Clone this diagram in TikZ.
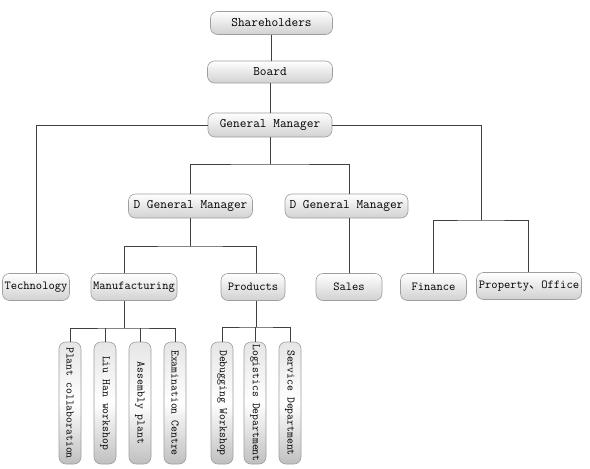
\documentclass[tikz,border=0pt]{standalone}
\usepackage{fontspec}
\newfontfamily\cjk{Noto Sans CJK SC}
\newcommand\boxfont[1]{\ttfamily\fontsize{#1}{#1}\selectfont\addfontfeatures{FakeBold=1.1}}
\begin{document}
\begin{tikzpicture}[x=1pt,y=-1pt,
  box/.style={draw=black!38, line width=0.6pt, rounded corners=7pt, inner sep=0pt,
    top color=white, bottom color=black!18, font=\boxfont{13}},
  rowbox/.style={box, minimum height=27pt, font=\boxfont{12.2}},
  tallbox/.style={draw=black!38, line width=0.6pt, rounded corners=7pt, inner sep=0pt,
    rotate=-90, minimum width=122pt, minimum height=22pt,
    top color=black!10, bottom color=black!25, middle color=white,
    font=\boxfont{11.4}},
  conn/.style={draw=black!75, line width=0.8pt}]
\useasboundingbox (0,0) rectangle (590,469);
% top levels
\node[box, minimum width=122pt, minimum height=23pt] (sh) at (271.5,23) {Shareholders};
\node[box, minimum width=125pt, minimum height=22pt] (bd) at (270,72) {Board};
\node[box, minimum width=124pt, minimum height=24pt] (gm) at (270,125) {General Manager};
\node[box, minimum width=124pt, minimum height=24pt] (dg1) at (190.5,206) {D General Manager};
\node[box, minimum width=123pt, minimum height=24pt] (dg2) at (346.5,206) {D General Manager};
% row
\node[rowbox, minimum width=67pt] (tech) at (36,287) {Technology};
\node[rowbox, minimum width=86pt] (manu) at (134,287) {Manufacturing};
\node[rowbox, minimum width=64pt] (prod) at (253,287) {Products};
\node[rowbox, minimum width=66pt] (sales) at (349,287) {Sales};
\node[rowbox, minimum width=66pt] (fin) at (433.5,287) {Finance};
\node[rowbox, minimum width=105pt] (prop) at (529,286) {Property{\cjk 、}Office};
% tall boxes
\node[tallbox] (b1) at (70,403) {Plant collaboration};
\node[tallbox] (b2) at (105,403) {Liu Han workshop};
\node[tallbox] (b3) at (140,403) {Assembly plant};
\node[tallbox] (b4) at (175,403) {Examination Centre};
\node[tallbox] (c1) at (222,403) {Debugging Workshop};
\node[tallbox] (c2) at (255,403) {Logistics Department};
\node[tallbox] (c3) at (290,403) {Service Department};
% junction coordinates (only their y matters where lines pass through)
\coordinate (jd) at (270,164);
\coordinate (jr) at (481,220);
\coordinate (jm) at (190,246);
\coordinate (dg2in) at ([xshift=2.5pt]dg2.north);
\coordinate (dg2out) at ([xshift=2.5pt]dg2.south);
\coordinate (manuin) at ([xshift=-10pt]manu.north);
\coordinate (manuout) at ([xshift=-10pt]manu.south);
\coordinate (prodin) at ([xshift=3pt]prod.north);
\coordinate (prodout) at ([xshift=3pt]prod.south);
\coordinate (propin) at ([xshift=-1pt]prop.north);
\coordinate (jb) at (124,328);
\coordinate (jc) at (256,327);
% connectors
\draw[conn] (sh.south) -- (sh.south |- bd.north);
\draw[conn] (bd.south) -- (bd.south |- gm.north);
\draw[conn] (gm.west) -| (tech.north);
\draw[conn] (gm.south) -- (gm.south |- jd);
\draw[conn] (dg1.north) |- (jd) -| (dg2in);
\draw[conn] (gm.east) -| (jr);
\draw[conn] (fin.north) |- (jr) -| (propin);
\draw[conn] (dg1.south) -- (dg1.south |- jm);
\draw[conn] (manuin) |- (jm) -| (prodin);
\draw[conn] (dg2out) -- (dg2out |- sales.north);
\draw[conn] (manuout) -- (manuout |- jb);
\draw[conn] (b1.west) |- (jb) -| (b4.west);
\draw[conn] (b2.west) -- (b2.west |- jb);
\draw[conn] (b3.west) -- (b3.west |- jb);
\draw[conn] (prodout) -- (prodout |- jc);
\draw[conn] (c1.west) |- (jc) -| (c3.west);
\draw[conn] (c2.west) -- (c2.west |- jc);
\end{tikzpicture}
\end{document}
